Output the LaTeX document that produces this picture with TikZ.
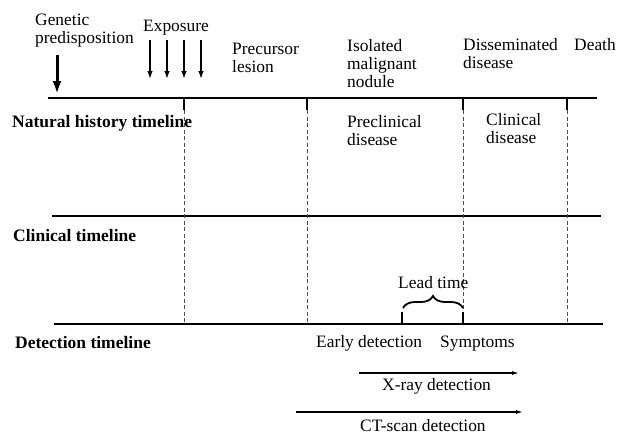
\documentclass[tikz,border=0pt]{standalone}
\usepackage{fontspec}
\setmainfont{Liberation Serif}
\usetikzlibrary{arrows.meta,decorations.pathreplacing}
\begin{document}
\begin{tikzpicture}[x=1pt,y=-1pt,
  txt/.style={anchor=base west,inner sep=0pt,align=left,font=\fontsize{17.4}{18}\selectfont},
  lbl/.style={anchor=base west,inner sep=0pt,font=\fontsize{17.5}{19}\selectfont\bfseries},
  tline/.style={line width=2.2pt},
  tickmark/.style={line width=2.2pt},
  vguide/.style={line width=0.9pt,black!70,dash pattern=on 4pt off 2.5pt},
  genarrow/.style={-{Latex[length=13pt,width=9pt]},line width=3pt},
  expoarrow/.style={-{Latex[length=8pt,width=5.5pt]},line width=1.4pt},
  detarrow/.style={-{Latex[length=7pt,width=4pt]},line width=1.2pt}
]
\useasboundingbox (0,0) rectangle (617,432);

% timelines
\coordinate (nA) at (48,98);  \coordinate (nB) at (597,98);
\coordinate (cA) at (52,216); \coordinate (cB) at (601,216);
\coordinate (dA) at (54,324); \coordinate (dB) at (603,324);
\draw[tline] (nA) -- (nB);
\draw[tline] (cA) -- (cB);
\draw[tline] (dA) -- (dB);

% ticks on natural history line and dashed guides
\foreach \i/\x in {1/184,2/307,3/463,4/567}{
  \coordinate (t\i) at (\x,98);
  \coordinate (tt\i) at (\x,110);
  \draw[tickmark] (t\i) -- (tt\i);
}
\coordinate (g1) at (184,324);
\coordinate (g2) at (307,324);
\coordinate (g3) at (463,313);
\coordinate (g4) at (567,324);
\draw[vguide] (tt1) -- (g1);
\draw[vguide] (tt2) -- (g2);
\draw[vguide] (tt3) -- (g3);
\draw[vguide] (tt4) -- (g4);

% ticks on detection line
\coordinate (e1) at (402,312); \coordinate (e1b) at (402,324);
\coordinate (e2) at (463,312); \coordinate (e2b) at (463,324);
\draw[tickmark] (e1) -- (e1b);
\draw[tickmark] (e2) -- (e2b);

% brace
\coordinate (bA) at (403,308); \coordinate (bB) at (463,308);
\draw[line width=1.8pt,decorate,decoration={brace,amplitude=12pt}] (bA) -- (bB);

% arrows
\coordinate (gs) at (57,55); \coordinate (ge) at (57,94);
\draw[genarrow] (gs) -- (ge);
\foreach \i/\x in {1/150,2/167,3/184,4/201}{
  \coordinate (xs\i) at (\x,40);
  \coordinate (xe\i) at (\x,79);
  \draw[expoarrow] (xs\i) -- (xe\i);
}
\coordinate (rs) at (359,373); \coordinate (re) at (519,373);
\draw[detarrow] (rs) -- (re);
\coordinate (ks) at (296,412); \coordinate (ke) at (523,412);
\draw[detarrow] (ks) -- (ke);

% texts (base = baseline of last line)
\node[txt] (genetic) at (35,43) {Genetic\\predisposition};
\node[txt] (exposure) at (143,31) {Exposure};
\node[txt] (precursor) at (232,72) {Precursor\\lesion};
\node[txt] (isolated) at (347,87) {Isolated\\malignant\\nodule};
\node[txt] (dissem) at (463,68) {Disseminated\\disease};
\node[txt] (death) at (574,50) {Death};
\node[txt] (precl) at (347,145) {Preclinical\\disease};
\node[txt] (clin) at (486,143) {Clinical\\disease};
\node[lbl] (nhl) at (12,127) {Natural history timeline};
\node[lbl] (ctl) at (13,241) {Clinical timeline};
\node[lbl] (dtl) at (15,348) {Detection timeline};
\node[txt] (lead) at (398,288) {Lead time};
\node[txt] (early) at (316,347) {Early detection};
\node[txt] (sympt) at (440,347) {Symptoms};
\node[txt] (xray) at (382,390) {X-ray detection};
\node[txt] (ct) at (360,431) {CT-scan detection};
\end{tikzpicture}
\end{document}
